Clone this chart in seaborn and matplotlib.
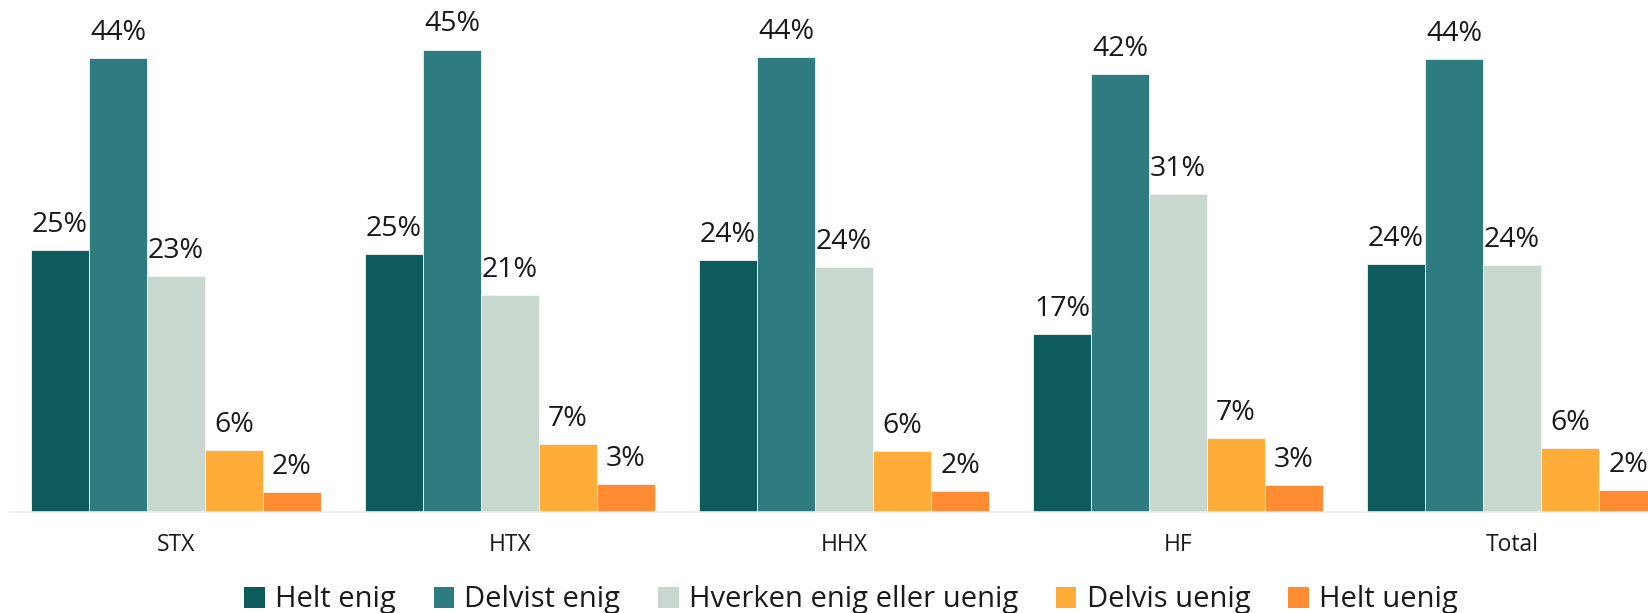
import matplotlib
matplotlib.use("Agg")
import matplotlib.pyplot as plt
import seaborn as sns
import pandas as pd
from matplotlib.patches import Patch

categories = ["STX", "HTX", "HHX", "HF", "Total"]
series = ["Helt enig", "Delvist enig", "Hverken enig eller uenig", "Delvis uenig", "Helt uenig"]
values = {
    "Helt enig":                [25.4, 25.0, 24.4, 17.2, 24.0],
    "Delvist enig":             [44.0, 44.8, 44.1, 42.4, 43.9],
    "Hverken enig eller uenig": [22.9, 21.0, 23.7, 30.8, 23.9],
    "Delvis uenig":             [6.0, 6.6, 5.9, 7.2, 6.2],
    "Helt uenig":               [1.9, 2.75, 2.0, 2.6, 2.1],
}
colors = ["#0E5B5E", "#2E7B80", "#C8D8CE", "#FFAC38", "#FF8C33"]

rows = []
for s in series:
    for c, v in zip(categories, values[s]):
        rows.append({"cat": c, "series": s, "val": v})
df = pd.DataFrame(rows)

sns.set_theme(style="white")
plt.rcParams["font.family"] = ["Open Sans", "DejaVu Sans"]

fig = plt.figure(figsize=(16.48, 6.13), dpi=100)
ax = fig.add_axes([9 / 1648, 101 / 613, 1 - 9 / 1648, 512 / 613])

sns.barplot(data=df, x="cat", y="val", hue="series", order=categories,
            hue_order=series, palette=colors, width=0.868, dodge=True,
            edgecolor="#f4f4f4", linewidth=0.6, ax=ax, legend=False,
            errorbar=None, saturation=1)

for cont in ax.containers:
    ax.bar_label(cont, labels=[f"{b.get_height():.0f}%" for b in cont],
                 padding=8, fontsize=20.5, color="#1a1a1a", clip_on=False)

ax.set_xlim(-0.5, 4.407)
ax.set_ylim(0, 49.6)
ax.set_xlabel("")
ax.set_ylabel("")
ax.set_yticks([])
ax.tick_params(axis="x", length=0, pad=15, labelsize=16.5, labelcolor="#1a1a1a")
for sp in ["top", "right", "left"]:
    ax.spines[sp].set_visible(False)
ax.spines["bottom"].set_color("#eeeeee")
ax.spines["bottom"].set_linewidth(1.2)

handles = [Patch(facecolor=col, edgecolor="none", label=s) for s, col in zip(series, colors)]
fig.legend(handles=handles, loc="center", bbox_to_anchor=(851 / 1648, 13 / 613),
           ncol=5, frameon=False, fontsize=21, handlelength=0.7, handleheight=0.7,
           handletextpad=0.35, columnspacing=1.3, labelcolor="#1a1a1a")

fig.savefig("out.png", dpi=100)
